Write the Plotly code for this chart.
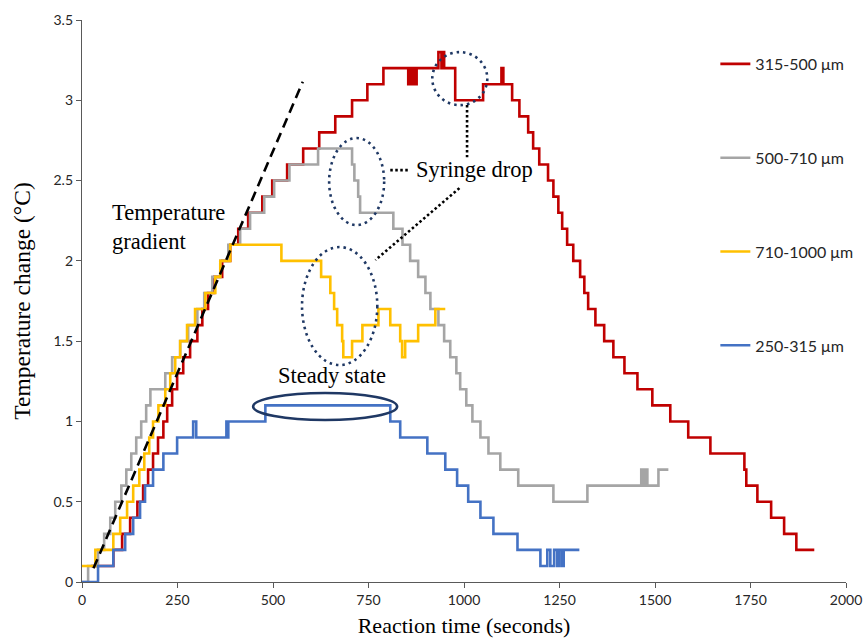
import plotly.graph_objects as go

# ---------------- data ----------------
x_tick_vals = [0, 250, 500, 750, 1000, 1250, 1500, 1750, 2000]
y_tick_vals = [0, 0.5, 1, 1.5, 2, 2.5, 3, 3.5]

series_names = ["315-500 μm", "500-710 μm", "710-1000 μm", "250-315 μm"]
series_colors = ["#C00000", "#A5A5A5", "#FFC000", "#4472C4"]

# step series: time (s) at which the reading changes, and the new reading (°C)
red_t = [24, 82, 105, 126, 145, 160, 173, 186, 199, 213, 223, 236, 249, 265, 283, 302,
         315, 330, 346, 367, 388, 409, 435, 472, 498, 537, 579, 621, 663, 707, 747, 789,
         854, 857, 860, 863, 866, 869, 872, 876, 933, 941, 944, 948, 977, 1050, 1098, 1103,
         1126, 1145, 1168, 1181, 1197, 1220, 1234, 1247, 1257, 1270, 1286, 1304, 1315, 1325,
         1344, 1367, 1391, 1420, 1454, 1493, 1540, 1587, 1645, 1734, 1739, 1768, 1804, 1838,
         1870, 1917]
red_v = [0.1, 0.2, 0.3, 0.4, 0.5, 0.6, 0.7, 0.8, 0.9, 1.0, 1.1, 1.2, 1.3, 1.4, 1.5, 1.6,
         1.7, 1.8, 1.9, 2.0, 2.1, 2.2, 2.3, 2.4, 2.5, 2.6, 2.7, 2.8, 2.9, 3.0, 3.1, 3.2,
         3.1, 3.2, 3.1, 3.2, 3.1, 3.2, 3.1, 3.2, 3.3, 3.2, 3.3, 3.2, 3.0, 3.1, 3.2, 3.1,
         3.0, 2.9, 2.8, 2.7, 2.6, 2.5, 2.4, 2.3, 2.2, 2.1, 2.0, 1.9, 1.8, 1.7,
         1.6, 1.5, 1.4, 1.3, 1.2, 1.1, 1.0, 0.9, 0.8, 0.7, 0.6, 0.5, 0.4, 0.3,
         0.2, 0.2]

gray_t = [0, 16, 42, 58, 74, 87, 103, 116, 129, 142, 155, 168, 179, 218, 236, 257, 278,
          302, 320, 341, 362, 383, 414, 440, 477, 503, 543, 618, 707, 713, 723, 728, 815,
          839, 859, 880, 899, 912, 933, 948, 964, 980, 990, 1006, 1022, 1043, 1064, 1095,
          1142, 1234, 1323, 1464, 1469, 1475, 1480, 1509, 1535]
gray_v = [0.0, 0.1, 0.2, 0.3, 0.4, 0.5, 0.6, 0.7, 0.8, 0.9, 1.0, 1.1, 1.2, 1.3, 1.4, 1.5, 1.6,
          1.7, 1.8, 1.9, 2.0, 2.1, 2.2, 2.3, 2.4, 2.5, 2.6, 2.7, 2.6, 2.5, 2.4, 2.3, 2.2,
          2.1, 2.0, 1.9, 1.8, 1.7, 1.6, 1.5, 1.4, 1.3, 1.2, 1.1, 1.0, 0.9, 0.8, 0.7,
          0.6, 0.5, 0.6, 0.7, 0.6, 0.7, 0.6, 0.7, 0.7]

yellow_t = [0, 35, 82, 100, 118, 134, 150, 163, 176, 186, 200, 218, 231, 244, 257, 275,
            296, 323, 349, 362, 388, 522, 626, 650, 660, 668, 681, 684, 707, 734, 776, 807,
            833, 838, 846, 880, 925, 951]
yellow_v = [0.1, 0.2, 0.3, 0.4, 0.5, 0.6, 0.7, 0.8, 0.9, 1.0, 1.1, 1.2, 1.3, 1.4, 1.5, 1.6,
            1.7, 1.8, 1.9, 2.0, 2.1, 2.0, 1.9, 1.8, 1.7, 1.6, 1.5, 1.4, 1.5, 1.6, 1.7, 1.6,
            1.5, 1.4, 1.5, 1.6, 1.7, 1.7]

blue_t = [0, 42, 82, 113, 134, 152, 165, 186, 213, 249, 291, 299, 378, 380, 383, 480,
          807, 833, 904, 951, 982, 1011, 1043, 1077, 1140, 1200, 1218, 1226, 1236, 1244,
          1250, 1257, 1261, 1302]
blue_v = [0.0, 0.1, 0.2, 0.3, 0.4, 0.5, 0.6, 0.7, 0.8, 0.9, 1.0, 0.9, 1.0, 0.9, 1.0, 1.1,
          1.0, 0.9, 0.8, 0.7, 0.6, 0.5, 0.4, 0.3, 0.2, 0.1, 0.2, 0.1, 0.2, 0.1,
          0.2, 0.1, 0.2, 0.2]

series_t = [red_t, gray_t, yellow_t, blue_t]
series_v = [red_v, gray_v, yellow_v, blue_v]

SERIF = "Liberation Serif, Times New Roman, serif"
SANS = "Lato, Carlito, Calibri, sans-serif"
NAVY = "#1F3864"

fig = go.Figure()
for name, t, v, c in zip(series_names, series_t, series_v, series_colors):
    fig.add_trace(go.Scatter(
        x=t, y=v, mode="lines", name=name, legendgroup=name,
        line=dict(color=c, width=2.6, shape="hv"),
        hoverinfo="skip",
    ))

shapes = [
    # temperature-gradient dashed line
    dict(type="line", xref="x", yref="y", x0=30, y0=0.085, x1=578, y1=3.115,
         line=dict(color="black", width=2.6, dash="10px,6px")),
    # dotted ellipses (syringe drop)
    dict(type="circle", xref="x", yref="y", x0=917, x1=1061, y0=2.97, y1=3.30,
         line=dict(color=NAVY, width=2.6, dash="2.5px,4px")),
    dict(type="circle", xref="x", yref="y", x0=647, x1=791, y0=2.223, y1=2.765,
         line=dict(color=NAVY, width=2.6, dash="2.5px,4px")),
    dict(type="circle", xref="x", yref="y", x0=576, x1=773, y0=1.351, y1=2.086,
         line=dict(color=NAVY, width=2.6, dash="2.5px,4px")),
    # steady state ellipse
    dict(type="circle", xref="x", yref="y", x0=448, x1=825, y0=1.009, y1=1.177,
         line=dict(color=NAVY, width=2.6)),
    # dotted connectors to "Syringe drop"
    dict(type="line", xref="x", yref="y", x0=807, y0=2.565, x1=859, y1=2.565,
         line=dict(color="black", width=2.6, dash="2.5px,2.5px")),
    dict(type="line", xref="x", yref="y", x0=1008, y0=2.97, x1=1008, y1=2.646,
         line=dict(color="black", width=2.6, dash="2.5px,2.5px")),
    dict(type="line", xref="x", yref="y", x0=988, y0=2.453, x1=768, y1=2.005,
         line=dict(color="black", width=2.6, dash="2.5px,2.5px")),
]

annotations = [
    dict(text="Temperature<br>gradient", x=74, y=2.21, xref="x", yref="y",
         xanchor="left", yanchor="middle", align="left", showarrow=False,
         font=dict(family=SERIF, size=22.5, color="black")),
    dict(text="Syringe drop", x=870, y=2.57, xref="x", yref="y",
         xanchor="left", yanchor="middle", showarrow=False,
         font=dict(family=SERIF, size=22.5, color="black")),
    dict(text="Steady state", x=508, y=1.283, xref="x", yref="y",
         xanchor="left", yanchor="middle", showarrow=False,
         font=dict(family=SERIF, size=22.5, color="black")),
]

fig.update_layout(
    template="none",
    width=865, height=640, autosize=False,
    margin=dict(l=82, r=19, t=20, b=58, pad=0, autoexpand=False),
    paper_bgcolor="white", plot_bgcolor="white",
    showlegend=True,
    legend=dict(x=0.829, y=0.952, xanchor="left", yanchor="top",
                traceorder="grouped", tracegroupgap=70,
                font=dict(family=SANS, size=16, color="#262626"),
                bgcolor="rgba(0,0,0,0)", borderwidth=0),
    shapes=shapes,
    annotations=annotations,
    xaxis=dict(range=[0, 2000], tickvals=x_tick_vals, ticks="outside", ticklen=5,
               tickcolor="#595959", tickwidth=1.3,
               showline=True, linecolor="#595959", linewidth=1.3,
               showgrid=False, zeroline=False, automargin=False, layer="below traces",
               tickfont=dict(family=SANS, size=14, color="#262626"),
               title=dict(text="Reaction time (seconds)", standoff=10,
                          font=dict(family=SERIF, size=22, color="black"))),
    yaxis=dict(range=[0, 3.5], tickvals=y_tick_vals, ticks="outside", ticklen=5,
               tickcolor="#595959", tickwidth=1.3,
               showline=True, linecolor="#595959", linewidth=1.3,
               showgrid=False, zeroline=False, automargin=False, layer="below traces",
               tickfont=dict(family=SANS, size=14, color="#262626"),
               title=dict(text="Temperature change (°C)", standoff=16,
                          font=dict(family=SERIF, size=23.5, color="black"))),
)

fig.write_html("out.html", config={"displayModeBar": False})
